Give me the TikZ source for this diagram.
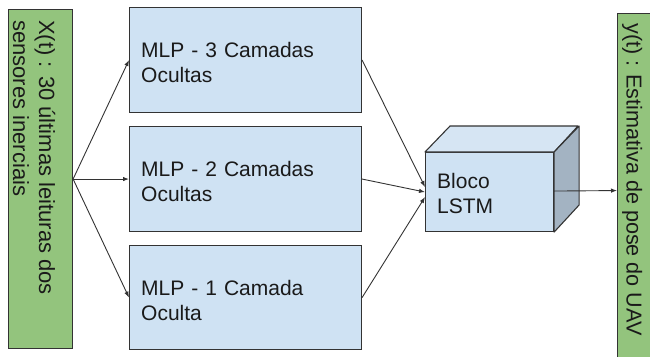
\documentclass[tikz,border=0pt]{standalone}
\usepackage{fontspec}
\setmainfont{Liberation Sans}
\usetikzlibrary{arrows.meta}

\definecolor{boxgreen}{HTML}{93C47D}
\definecolor{boxblue}{HTML}{CFE2F3}
\definecolor{cubetop}{HTML}{D6E5F3}
\definecolor{cubeside}{HTML}{A3B3C2}
\definecolor{edge}{HTML}{333333}
\definecolor{ink}{HTML}{1A1A1A}

\begin{document}
\begin{tikzpicture}[x=1pt,y=-1pt,
  box/.style={draw=edge, line width=1.1pt, inner sep=0pt, anchor=north west},
  greenbox/.style={box, fill=boxgreen},
  bluebox/.style={box, fill=boxblue, minimum width=232pt},
  txt/.style={font=\fontsize{21}{25}\selectfont, text=ink, inner sep=0pt,
              align=left, anchor=base west},
  arr/.style={draw=edge, line width=0.9pt,
              -{Latex[length=6pt,width=4.5pt]}}
]
\useasboundingbox (0,0) rectangle (650,356);
\clip (0,0) rectangle (650,356);

% input and output bars
\node[greenbox, minimum width=64pt, minimum height=339pt] (in) at (8,9) {};
\node[greenbox, minimum width=45pt, minimum height=360pt] (out) at (617,13) {};

% the three MLP branches
\node[bluebox, minimum height=105pt] (m3) at (129,7) {};
\node[bluebox, minimum height=105pt] (m2) at (129,126) {};
\node[bluebox, minimum height=104pt] (m1) at (129,245) {};

% LSTM cube: front face plus top and side faces
\node[box, fill=boxblue, minimum width=128pt, minimum height=79pt] (lstm) at (425,152) {};
\filldraw[fill=cubetop, draw=edge, line width=1.1pt, line join=round]
  (lstm.north west) -- ++(25,-26) -- ++(128,0) -- (lstm.north east) -- cycle;
\filldraw[fill=cubeside, draw=edge, line width=1.1pt, line join=round]
  (lstm.north east) -- ++(25,-26) -- ++(0,79) -- (lstm.south east) -- cycle;

% labels
\node[txt, font=\fontsize{22}{26}\selectfont, text width=299pt, align=justify, rotate=-90] (tin)
  at ([shift={(31,11)}]in.north west) {X(t) : 30 últimas leituras dos\\sensores inerciais};
\node[txt, font=\fontsize{21.6}{26}\selectfont, rotate=-90] (tout)
  at ([shift={(9.5,10)}]out.north west) {y(t) : Estimativa de pose do UAV};
\node[txt, text width=215pt] (t3) at ([shift={(12,50)}]m3.north west) {MLP - 3 Camadas\\Ocultas};
\node[txt, text width=215pt] (t2) at ([shift={(12,50)}]m2.north west) {MLP - 2 Camadas\\Ocultas};
\node[txt, text width=215pt] (t1) at ([shift={(12,50)}]m1.north west) {MLP - 1 Camada\\Oculta};
\node[txt, text width=110pt] (tl) at ([shift={(12,36)}]lstm.north west) {Bloco\\LSTM};

% connectors
\draw[arr] (in.east) -- (m3.west);
\draw[arr] (in.east) -- (m2.west);
\draw[arr] (in.east) -- (m1.west);
\draw[arr] (m3.east) -- ([yshift=5pt]lstm.west);
\draw[arr] (m2.east) -- (lstm.west);
\draw[arr] (m1.east) -- ([yshift=-5pt]lstm.west);
\draw[arr] ([yshift=1pt]lstm.east) -- ([yshift=3pt]out.west);
\end{tikzpicture}
\end{document}
